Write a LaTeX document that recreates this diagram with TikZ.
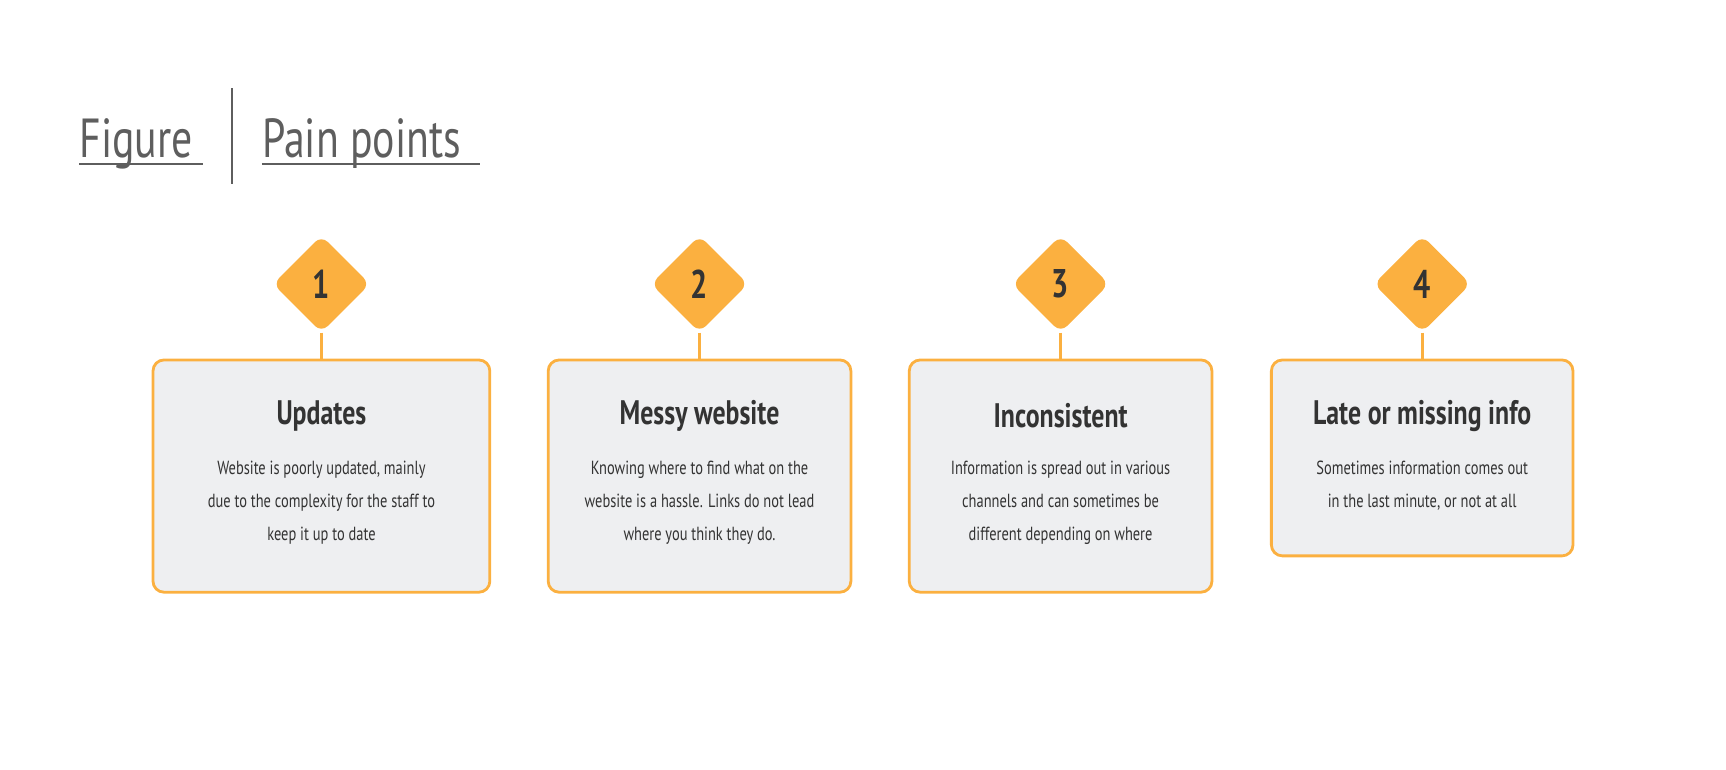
\documentclass[tikz,border=0pt]{standalone}
\usepackage{fontspec}
\setmainfont[FakeStretch=0.76]{PT Sans}
\usetikzlibrary{shapes.geometric}
\definecolor{org}{HTML}{FBB040}
\definecolor{boxf}{HTML}{EEEFF1}
\definecolor{dark}{HTML}{333333}
\definecolor{grayt}{HTML}{5E5E5E}
\tikzset{
 card/.style={draw=org,fill=boxf,line width=2.8pt,rounded corners=11pt},
 badge/.style={diamond,fill=org,minimum width=97pt,minimum height=97pt,inner sep=0pt,rounded corners=9pt,font=\fontsize{40}{40}\selectfont\bfseries,text=dark},
 stem/.style={draw=org,line width=2.8pt},
 ctitle/.style={font=\fontsize{34}{34}\selectfont\bfseries,text=dark},
 cbody/.style={font=\fontsize{19}{33}\selectfont,text=dark,align=center},
 head/.style={font=\fontsize{55}{55}\selectfont,text=grayt,anchor=base west}
}
\begin{document}
\begin{tikzpicture}[x=1.1008pt,y=-1.1008pt]
\node[head,inner sep=0pt] (fig) at (72,143) {Figure};
\draw[grayt,line width=1.7pt] (72,149) -- (184,149);
\draw[grayt,line width=2.2pt] (211,80) -- (211,167);
\node[head,inner sep=0pt] (pp) at (238,143) {Pain points};
\draw[grayt,line width=1.7pt] (238,149) -- (436,149);
\foreach \i/\xa/\xb/\yb/\t/\b in {
 1/139/445/538/Updates/{Website is poorly updated, mainly\\due to the complexity for the staff to\\keep it up to date},
 2/498/773/538/Messy website/{Knowing where to find what on the\\website is a hassle. Links do not lead\\where you think they do.},
 3/826/1101/538/Inconsistent/{Information is spread out in various\\channels and can sometimes be\\different depending on where},
 4/1155/1429/505/Late or missing info/{Sometimes information comes out\\in the last minute, or not at all}}{
 \draw[card] (\xa,327) rectangle (\xb,\yb);
 \coordinate (top\i) at ({(\xa+\xb)/2},327);
 \node[badge] (d\i) at ({(\xa+\xb)/2},258) {\i};
 \draw[stem] (d\i.south) -- (top\i);
 \node[ctitle] (t\i) at ({(\xa+\xb)/2},378) {\t};
 \node[cbody,anchor=north] (b\i) at ({(\xa+\xb)/2},416) {\b};
}
\pgfresetboundingbox
\useasboundingbox (0,0) rectangle (1568,699.5);
\end{tikzpicture}
\end{document}
